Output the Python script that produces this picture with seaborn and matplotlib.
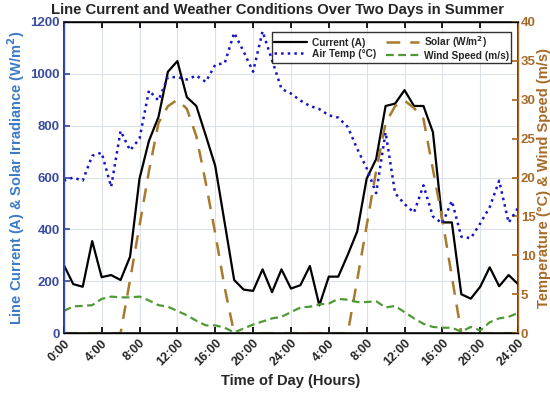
import numpy as np
import pandas as pd
import matplotlib
matplotlib.use('Agg')
import matplotlib.pyplot as plt
import seaborn as sns

# Hourly readings over two summer days (0..48 h)
hours = list(range(49))
tick_labels = ['0:00', '4:00', '8:00', '12:00', '16:00', '20:00', '24:00',
               '4:00', '8:00', '12:00', '16:00', '20:00', '24:00']

current = [263, 189, 179, 355, 216, 224, 205, 295, 596, 742, 833, 1008, 1049,
           910, 876, 762, 645, 425, 205, 168, 163, 246, 158, 246, 172,
           185, 259, 107, 218, 218, 302, 392, 596, 671, 876, 885, 937,
           876, 876, 775, 427, 427, 150, 133, 179, 254, 181, 224, 189]

solar = [0, 0, 0, 0, 0, 0, 0, 205, 415, 625, 810, 875, 900,
         865, 760, 580, 385, 175, 0, 0, 0, 0, 0, 0, 0,
         0, 0, 0, 0, 0, 0, 205, 415, 625, 810, 875, 897,
         868, 826, 632, 438, 218, 0, 0, 0, 0, 0, 0, 0]

air_temp = [19.6, 20.0, 19.6, 22.8, 23.2, 18.8, 26.0, 23.5, 25.0, 31.2, 29.9, 32.9, 32.9,
            32.6, 33.1, 32.3, 34.5, 34.7, 38.6, 36.2, 33.6, 38.8, 35.1, 31.4, 30.8,
            29.9, 29.2, 28.8, 28.0, 27.7, 26.5, 23.7, 21.2, 18.0, 25.8, 18.0, 16.6,
            15.5, 19.0, 15.0, 14.1, 17.0, 12.4, 12.2, 14.1, 16.2, 19.6, 14.2, 16.1]

wind = [2.85, 3.45, 3.5, 3.6, 4.4, 4.7, 4.6, 4.6, 4.7, 4.2, 3.6, 3.4, 2.85,
        2.3, 1.6, 1.0, 1.0, 0.7, 0.1, 0.6, 1.1, 1.5, 1.9, 2.1, 2.7,
        3.3, 3.4, 3.7, 3.8, 4.4, 4.3, 4.0, 4.0, 4.1, 3.3, 3.5, 2.7,
        1.9, 1.2, 0.8, 0.7, 0.7, 0.2, 0.8, 0.35, 1.4, 1.9, 2.1, 2.6]

df = pd.DataFrame({'Hour': hours, 'Current': current, 'Solar': solar,
                   'AirTemp': air_temp, 'Wind': wind})

sns.set_theme(style='white')
plt.rcParams['font.family'] = ['Liberation Sans', 'DejaVu Sans']
plt.rcParams['font.weight'] = 'bold'

left_tick_col = '#3A4CA0'
left_lab_col = '#3C7BC8'
right_col = '#A86A28'
solar_col = '#A87A2C'
temp_col = '#1414C8'
wind_col = '#4E9A35'

fig, ax = plt.subplots(figsize=(5.5, 3.99), dpi=100)
fig.subplots_adjust(left=0.116, right=0.942, top=0.945, bottom=0.165)
ax2 = ax.twinx()

sns.lineplot(data=df, x='Hour', y='Current', ax=ax, color='black', lw=1.6,
             label='Current (A)', legend=False)
sns.lineplot(data=df, x='Hour', y='Solar', ax=ax, color=solar_col, lw=1.8,
             dashes=False, label='Solar (W/m$^2$)', legend=False)
ax.lines[-1].set_dashes([5.5, 4])
sns.lineplot(data=df, x='Hour', y='AirTemp', ax=ax2, color=temp_col, lw=1.8,
             label='Air Temp (°C)', legend=False)
ax2.lines[-1].set_linestyle(':')
sns.lineplot(data=df, x='Hour', y='Wind', ax=ax2, color=wind_col, lw=1.6,
             label='Wind Speed (m/s)', legend=False)
ax2.lines[-1].set_dashes([3.5, 2])

ax.set_xlim(0, 48)
ax.set_ylim(0, 1200)
ax2.set_ylim(0, 40)
ax.set_xticks(range(0, 49, 4))
ax.set_xticklabels(tick_labels, rotation=45, ha='right', rotation_mode='anchor',
                   fontsize=9, fontweight='bold')
ax.set_yticks(range(0, 1201, 200))
ax.set_yticklabels([str(v) for v in range(0, 1201, 200)], fontsize=9.5,
                   fontweight='bold', color=left_tick_col)
ax2.set_yticks(range(0, 41, 5))
ax2.set_yticklabels([str(v) for v in range(0, 41, 5)], fontsize=9.5,
                    fontweight='bold', color=right_col)

ax.grid(True, color='#DCE2EC', lw=0.8)
ax.tick_params(axis='x', direction='in', length=4, top=True, bottom=True,
               pad=3, color='black')
ax.tick_params(axis='y', direction='in', length=4, pad=3, color=left_tick_col)
ax2.tick_params(axis='y', direction='in', length=4, pad=2, color=right_col)

ax.set_xlabel('Time of Day (Hours)', fontsize=10.5, fontweight='bold')
ax.set_ylabel('Line Current (A) & Solar Irradiance (W/m$^2$)', fontsize=10.5,
              fontweight='bold', color=left_lab_col, labelpad=2)
ax2.set_ylabel('Temperature (°C) & Wind Speed (m/s)', fontsize=10.5,
               fontweight='bold', color=right_col, labelpad=1)
ax.set_title('Line Current and Weather Conditions Over Two Days in Summer',
             fontsize=10.7, fontweight='bold', pad=6, x=0.47)

for s in ['top', 'bottom']:
    ax2.spines[s].set_color('black')
ax2.spines['left'].set_color(left_tick_col)
ax2.spines['right'].set_color(right_col)
for sp in ax2.spines.values():
    sp.set_linewidth(1.0)

h1, l1 = ax.get_legend_handles_labels()
h2, l2 = ax2.get_legend_handles_labels()
handles = [h1[0], h2[0], h1[1], h2[1]]
labels = [l1[0], l2[0], l1[1], l2[1]]
leg = ax2.legend(handles, labels, ncol=2, loc='upper right',
                 bbox_to_anchor=(0.995, 0.985), fontsize=7.3, frameon=True,
                 fancybox=False, edgecolor='black', handlelength=3.2,
                 columnspacing=1.0, borderpad=0.2, labelspacing=0.15,
                 handletextpad=0.5)
leg.get_frame().set_linewidth(1.0)
for t in leg.get_texts():
    t.set_fontweight('bold')

fig.savefig('out.png', dpi=100)
